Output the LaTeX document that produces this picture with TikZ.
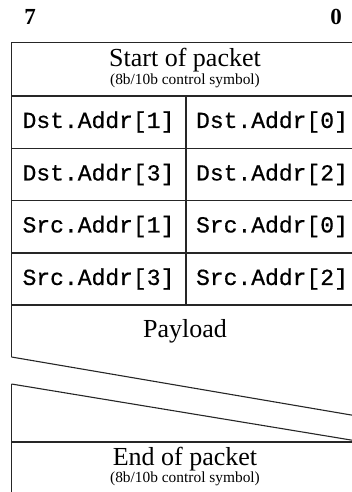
\documentclass[tikz,border=0pt]{standalone}
\usepackage{fontspec}
\setmainfont{Liberation Serif}
\setmonofont[FakeBold=0.6]{Liberation Mono}
\begin{document}
\begin{tikzpicture}[x=1pt,y=-1pt,
  frame/.style={line width=1.1pt,draw=black!85},
  bit/.style={font=\fontsize{23}{23}\selectfont\bfseries,anchor=base},
  big/.style={font=\fontsize{26}{26}\selectfont,anchor=base,inner sep=0pt},
  small/.style={font=\fontsize{15.4}{15.4}\selectfont,anchor=base,inner sep=0pt},
  cell/.style={font=\fontsize{23}{23}\selectfont\ttfamily,anchor=center}]
\useasboundingbox (0,0) rectangle (351,492);
% bit numbers
\node[bit] (b7) at (30,25) {7};
\node[bit] (b0) at (336,25) {0};
% frame coordinates
\coordinate (tl) at (11.5,42.5);
\coordinate (tr) at (360,42.5);
% outer lines
\draw[frame] (11.5,357) -- (tl) -- (tr);
\draw[frame] (11.5,357) -- (360,416.5);
\draw[frame] (11.5,384) -- (360,441.5);
\draw[frame] (11.5,384) -- (11.5,500);
\draw[frame] (11.5,442) -- (360,442);
% row separators
\foreach \y in {96,148.5,200.5,253,305}
  \draw[frame] (11.5,\y) -- (360,\y);
\draw[frame] (186,96) -- (186,305);
% texts
\node[big] (sop) at (185,66.5) {Start of packet};
\node[small] (sopc) at (185,84.5) {(8b/10b control symbol)};
\node[cell] (d1) at (98.5,122) {Dst.Addr[1]};
\node[cell] (d0) at (272,122) {Dst.Addr[0]};
\node[cell] (d3) at (98.5,174.5) {Dst.Addr[3]};
\node[cell] (d2) at (272,174.5) {Dst.Addr[2]};
\node[cell] (s1) at (98.5,226.5) {Src.Addr[1]};
\node[cell] (s0) at (272,226.5) {Src.Addr[0]};
\node[cell] (s3) at (98.5,279) {Src.Addr[3]};
\node[cell] (s2) at (272,279) {Src.Addr[2]};
\node[big] (pl) at (185,337) {Payload};
\node[big] (eop) at (185,465) {End of packet};
\node[small] (eopc) at (185,482) {(8b/10b control symbol)};
\end{tikzpicture}
\end{document}
